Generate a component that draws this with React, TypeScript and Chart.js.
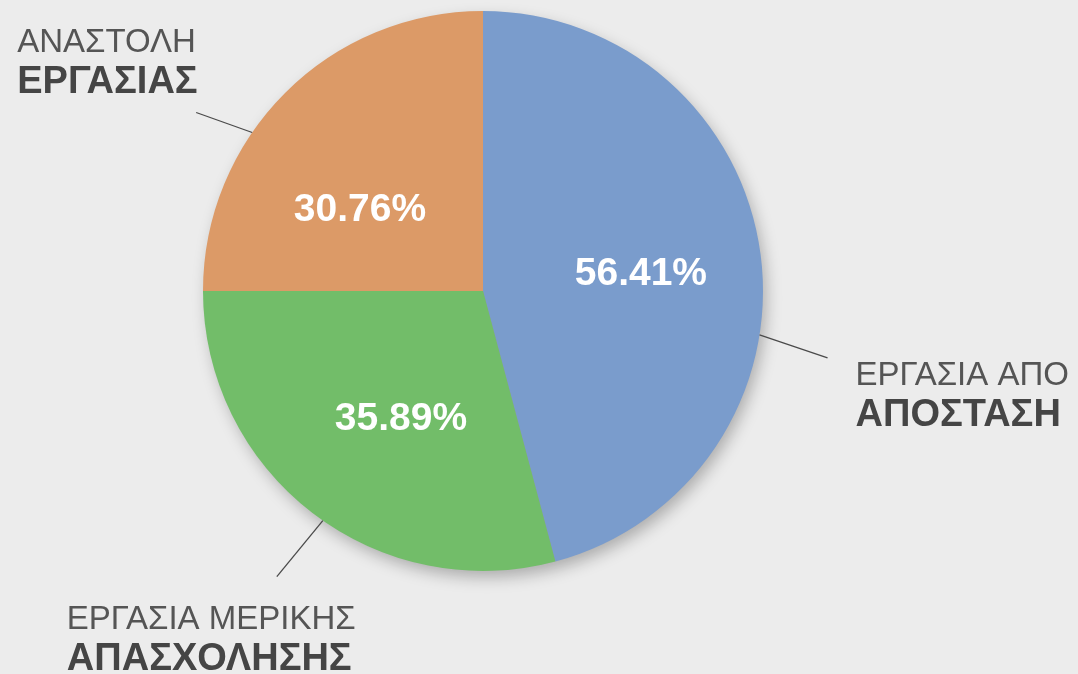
import React, { useEffect, useRef } from "react";
import { Chart, registerables } from "chart.js";

Chart.register(...registerables);

// ---- data ----
const categories = ["ΕΡΓΑΣΙΑ ΑΠΟ ΑΠΟΣΤΑΣΗ", "ΕΡΓΑΣΙΑ ΜΕΡΙΚΗΣ ΑΠΑΣΧΟΛΗΣΗΣ", "ΑΝΑΣΤΟΛΗ ΕΡΓΑΣΙΑΣ"];
const labelLine1 = ["ΕΡΓΑΣΙΑ ΑΠΟ", "ΕΡΓΑΣΙΑ ΜΕΡΙΚΗΣ", "ΑΝΑΣΤΟΛΗ"];
const labelLine2 = ["ΑΠΟΣΤΑΣΗ", "ΑΠΑΣΧΟΛΗΣΗΣ", "ΕΡΓΑΣΙΑΣ"];
const values = [56.41, 35.89, 30.76];
const colors = ["#7a9ccc", "#72bd69", "#dc9a67"];

// ---- label geometry (style) ----
const innerFrac = [0.504, 0.457, 0.376];
const innerRad = [0.568, 0.538, 0.529];
const leaderFrac = [0.6, 0.475, 0.383];
const leaderOffset = [
  [68, 23],
  [-46, 56],
  [-56, -20],
];
const textOffset = [
  [28, 27],
  [-210, 52],
  [-179, -60],
];
const LINE_GAP = 41;
const BG = "#ececec";

const bgPlugin = {
  id: "bgFill",
  beforeDraw(chart: any) {
    const { ctx, width, height } = chart;
    ctx.save();
    ctx.fillStyle = BG;
    ctx.fillRect(0, 0, width, height);
    ctx.restore();
  },
};

const shadowPlugin = {
  id: "pieShadow",
  beforeDatasetsDraw(chart: any) {
    const arc = chart.getDatasetMeta(0).data[0];
    if (!arc) return;
    const { x, y, outerRadius } = arc.getProps(["x", "y", "outerRadius"], true);
    const ctx = chart.ctx;
    ctx.save();
    ctx.shadowColor = "rgba(0,0,0,0.28)";
    ctx.shadowBlur = 16;
    ctx.shadowOffsetX = 4;
    ctx.shadowOffsetY = 7;
    ctx.beginPath();
    ctx.arc(x, y, outerRadius - 1, 0, Math.PI * 2);
    ctx.fillStyle = "#999";
    ctx.fill();
    ctx.restore();
  },
};

const labelPlugin = {
  id: "pieLabels",
  afterDatasetsDraw(chart: any) {
    const ctx = chart.ctx;
    const meta = chart.getDatasetMeta(0);
    meta.data.forEach((arc: any, i: number) => {
      const { x, y, startAngle, endAngle, outerRadius } = arc.getProps(
        ["x", "y", "startAngle", "endAngle", "outerRadius"],
        true
      );
      const span = endAngle - startAngle;
      // inner percentage
      const a = startAngle + span * innerFrac[i];
      const r = outerRadius * innerRad[i];
      ctx.save();
      ctx.fillStyle = "#ffffff";
      ctx.font = "bold 39px 'Liberation Sans', Arial, sans-serif";
      ctx.textAlign = "center";
      ctx.textBaseline = "middle";
      ctx.fillText(values[i].toFixed(2) + "%", x + Math.cos(a) * r, y + Math.sin(a) * r + 2);
      ctx.restore();

      // leader line
      const la = startAngle + span * leaderFrac[i];
      const sx = x + Math.cos(la) * outerRadius;
      const sy = y + Math.sin(la) * outerRadius;
      const ex = sx + leaderOffset[i][0];
      const ey = sy + leaderOffset[i][1];
      ctx.save();
      ctx.strokeStyle = "#4a4a4a";
      ctx.lineWidth = 1.3;
      ctx.beginPath();
      ctx.moveTo(sx, sy);
      ctx.lineTo(ex, ey);
      ctx.stroke();
      ctx.restore();

      // outer text
      const tx = ex + textOffset[i][0];
      const ty = ey + textOffset[i][1];
      ctx.save();
      ctx.textAlign = "left";
      ctx.textBaseline = "alphabetic";
      ctx.fillStyle = "#555555";
      ctx.font = "33px 'Liberation Sans', Arial, sans-serif";
      ctx.fillText(labelLine1[i], tx, ty);
      ctx.fillStyle = "#454545";
      ctx.font = "bold 38px 'Liberation Sans', Arial, sans-serif";
      ctx.fillText(labelLine2[i], tx, ty + LINE_GAP);
      ctx.restore();
    });
  },
};

export default function App() {
  const ref = useRef<HTMLCanvasElement | null>(null);
  useEffect(() => {
    if (!ref.current) return;
    const chart = new Chart(ref.current, {
      type: "pie",
      data: {
        labels: categories,
        datasets: [
          {
            data: values,
            backgroundColor: colors,
            borderWidth: 0,
          },
        ],
      },
      options: {
        animation: false,
        responsive: false,
        layout: { padding: { left: 203, right: 315, top: 11, bottom: 103 } },
        plugins: {
          legend: { display: false },
          tooltip: { enabled: false },
        },
      },
      plugins: [bgPlugin, shadowPlugin, labelPlugin],
    });
    return () => chart.destroy();
  }, []);
  return (
    <div
      style={{
        position: "fixed",
        left: 0,
        top: 0,
        width: 1078,
        height: 674,
        background: BG,
        overflow: "hidden",
      }}
    >
      <canvas ref={ref} width={1078} height={674} style={{ width: 1078, height: 674, display: "block" }} />
    </div>
  );
}
